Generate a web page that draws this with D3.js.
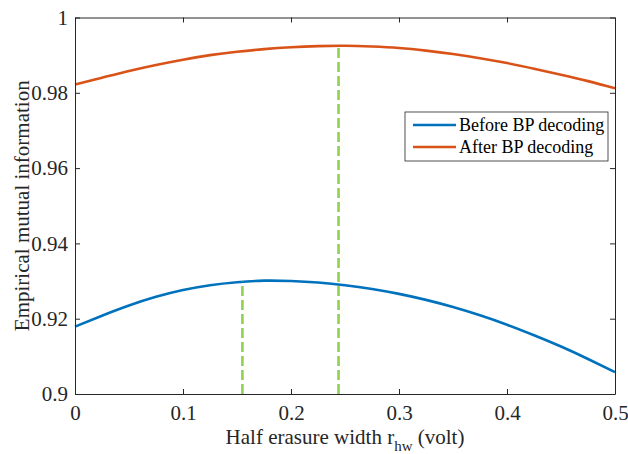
<!DOCTYPE html>
<html>
<head>
<script src="https://cdn.jsdelivr.net/npm/d3@7"></script>
</head>
<body style="margin:0">
<svg></svg>
<script>
const width = 628;
const height = 454;
const margin = { top: 17.5, right: 13, bottom: 60, left: 75 };

// data
const xValues = [0, 0.025, 0.05, 0.075, 0.1, 0.125, 0.15, 0.175, 0.2, 0.225, 0.25,
  0.275, 0.3, 0.325, 0.35, 0.375, 0.4, 0.425, 0.45, 0.475, 0.5];
const beforeBP = [0.9179, 0.9208, 0.9235, 0.9258, 0.9276, 0.9289, 0.9297, 0.9301, 0.9300, 0.9296, 0.9289,
  0.9279, 0.9266, 0.9250, 0.9231, 0.9209, 0.9184, 0.9156, 0.9126, 0.9093, 0.9058];
const afterBP = [0.9822, 0.9840, 0.9858, 0.9874, 0.9888, 0.9900, 0.9909, 0.9916, 0.9921, 0.9924, 0.9925,
  0.9923, 0.9919, 0.9912, 0.9903, 0.9892, 0.9879, 0.9864, 0.9848, 0.9831, 0.9812];
const seriesNames = ["Before BP decoding", "After BP decoding"];
const optimumX = [0.155, 0.244];   // dashed markers
const optimumY = [0.9298, 0.9925];
const xTicks = [0, 0.1, 0.2, 0.3, 0.4, 0.5];
const yTicks = [0.9, 0.92, 0.94, 0.96, 0.98, 1];

const colors = ["#0072BD", "#D95319"];
const axisColor = "#262626";
const fontSize = 21;

const svg = d3.select("svg")
  .attr("width", width)
  .attr("height", height);

const x = d3.scaleLinear()
  .domain([0, 0.5])
  .range([margin.left, width - margin.right]);

const y = d3.scaleLinear()
  .domain([0.9, 1])
  .range([height - margin.bottom, margin.top]);

// lines
const line = d3.line()
  .x((d, i) => x(xValues[i]))
  .y(d => y(d))
  .curve(d3.curveNatural);

[beforeBP, afterBP].forEach((s, k) => {
  svg.append("path")
    .datum(s)
    .attr("d", line)
    .attr("fill", "none")
    .attr("stroke", colors[k])
    .attr("stroke-width", 2.6);
});

// dashed optimum markers
svg.selectAll(".opt")
  .data(optimumX)
  .join("line")
  .attr("class", "opt")
  .attr("x1", d => x(d))
  .attr("x2", d => x(d))
  .attr("y1", y(0.9))
  .attr("y2", (d, i) => y(optimumY[i]))
  .attr("stroke", "#92d050")
  .attr("stroke-width", 2.6)
  .attr("stroke-dasharray", "10,4");

// axes (box with inward ticks)
const xAxis = d3.axisBottom(x).tickValues(xTicks).tickSizeInner(-5).tickSizeOuter(0)
  .tickFormat(d3.format("~g")).tickPadding(11);
const yAxis = d3.axisLeft(y).tickValues(yTicks).tickSizeInner(-5).tickSizeOuter(0)
  .tickFormat(d3.format("~g")).tickPadding(7);

const gx = svg.append("g")
  .attr("transform", `translate(0,${y(0.9)})`)
  .call(xAxis);
const gy = svg.append("g")
  .attr("transform", `translate(${x(0)},0)`)
  .call(yAxis);
const gxTop = svg.append("g")
  .attr("transform", `translate(0,${y(1)})`)
  .call(d3.axisTop(x).tickValues(xTicks).tickSizeInner(-5).tickSizeOuter(0).tickFormat(""));
const gyRight = svg.append("g")
  .attr("transform", `translate(${x(0.5)},0)`)
  .call(d3.axisRight(y).tickValues(yTicks).tickSizeInner(-5).tickSizeOuter(0).tickFormat(""));

[gx, gy, gxTop, gyRight].forEach(g => {
  g.attr("font-size", fontSize);
  g.select(".domain").attr("stroke", axisColor).attr("stroke-width", 1);
  g.selectAll(".tick line").attr("stroke", axisColor);
  g.selectAll(".tick text").attr("fill", axisColor);
});

// axis titles
const xLabel = svg.append("text")
  .attr("x", x(0.25))
  .attr("y", 444)
  .attr("text-anchor", "middle")
  .attr("font-size", fontSize)
  .attr("fill", axisColor);
xLabel.append("tspan").text("Half erasure width r");
xLabel.append("tspan").attr("dy", 7).attr("font-size", 15).text("hw");
xLabel.append("tspan").attr("dy", -7).text(" (volt)");

svg.append("text")
  .attr("transform", `translate(29,${(y(0.9) + y(1)) / 2}) rotate(-90)`)
  .attr("text-anchor", "middle")
  .attr("font-size", fontSize)
  .attr("fill", axisColor)
  .text("Empirical mutual information");

// legend
const legend = svg.append("g").attr("transform", "translate(405,112)");
legend.append("rect")
  .attr("width", 203)
  .attr("height", 49)
  .attr("fill", "#fff")
  .attr("stroke", axisColor)
  .attr("stroke-width", 0.8);
seriesNames.forEach((name, i) => {
  const row = legend.append("g").attr("transform", `translate(0,${13 + i * 22})`);
  row.append("line")
    .attr("x1", 8).attr("x2", 51)
    .attr("stroke", colors[i])
    .attr("stroke-width", 2.6);
  row.append("text")
    .attr("x", 54)
    .attr("dy", "0.35em")
    .attr("font-size", 18)
    .attr("fill", "#000")
    .text(name);
});

// serif font on every text, set last so nothing overrides it
svg.selectAll("g").attr("font-family", null);
svg.selectAll("text").attr("font-family", "Liberation Serif");
</script>
</body>
</html>
